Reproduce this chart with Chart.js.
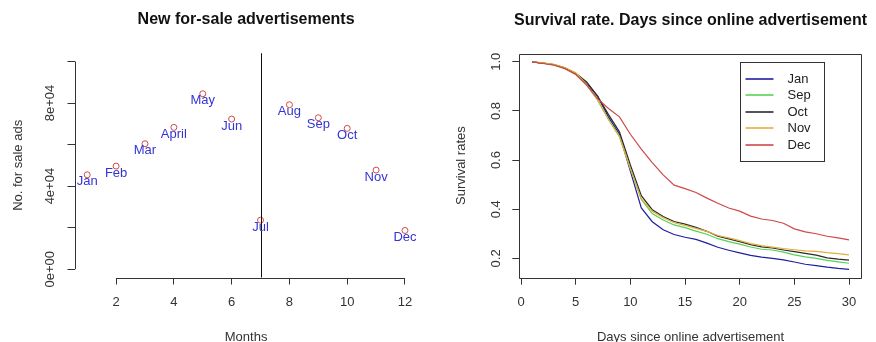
<!DOCTYPE html>
<html>
<head>
<meta charset="utf-8">
<script src="https://cdn.jsdelivr.net/npm/chart.js@4.4.0/dist/chart.umd.min.js"></script>
<style>
  html, body { margin: 0; padding: 0; background: #fff; overflow: hidden; }
  canvas { position: absolute; top: 0; }
  #adsChart { left: 0; }
  #survChart { left: 438px; }
</style>
</head>
<body>
<canvas id="adsChart" width="438" height="342"></canvas>
<canvas id="survChart" width="438" height="342"></canvas>
<script>
// left panel: new for-sale ads per month
const months = [1, 2, 3, 4, 5, 6, 7, 8, 9, 10, 11, 12];
const monthNames = ['Jan', 'Feb', 'Mar', 'April', 'May', 'Jun', 'Jul', 'Aug', 'Sep', 'Oct', 'Nov', 'Dec'];
const newAds = [45450, 49640, 60390, 68290, 84480, 72290, 23610, 79190, 72920, 67800, 47710, 18650];
const splitMonth = 7;
const adsXTicks = [2, 4, 6, 8, 10, 12];
const adsYTicks = [0, 20000, 40000, 60000, 80000, 100000];
const adsYLabels = ['0e+00', '', '4e+04', '', '8e+04', ''];

// right panel: survival rate by days online
const days = [1, 2, 3, 4, 5, 6, 7, 8, 9, 10, 11, 12, 13, 14, 15, 16, 17, 18, 19, 20, 21, 22, 23, 24, 25, 26, 27, 28, 29, 30];
const survJan = [1.000, 0.995, 0.988, 0.975, 0.952, 0.912, 0.860, 0.775, 0.705, 0.555, 0.405, 0.349, 0.316, 0.297, 0.286,
                 0.277, 0.262, 0.245, 0.233, 0.222, 0.212, 0.205, 0.200, 0.194, 0.185, 0.176, 0.170, 0.164, 0.159, 0.155];
const survSep = [1.000, 0.994, 0.988, 0.974, 0.950, 0.905, 0.845, 0.765, 0.695, 0.565, 0.440, 0.382, 0.356, 0.336, 0.325,
                 0.311, 0.298, 0.280, 0.268, 0.258, 0.246, 0.237, 0.234, 0.225, 0.214, 0.206, 0.200, 0.192, 0.186, 0.180];
const survOct = [1.000, 0.995, 0.989, 0.976, 0.953, 0.918, 0.860, 0.785, 0.715, 0.580, 0.455, 0.398, 0.370, 0.350, 0.339,
                 0.326, 0.310, 0.290, 0.279, 0.268, 0.256, 0.247, 0.242, 0.234, 0.227, 0.220, 0.213, 0.202, 0.197, 0.193];
const survNov = [1.000, 0.996, 0.990, 0.977, 0.955, 0.908, 0.845, 0.765, 0.697, 0.565, 0.442, 0.392, 0.365, 0.345, 0.334,
                 0.322, 0.310, 0.293, 0.283, 0.272, 0.260, 0.252, 0.246, 0.240, 0.235, 0.230, 0.228, 0.223, 0.219, 0.214];
const survDec = [1.000, 0.993, 0.986, 0.972, 0.948, 0.905, 0.850, 0.810, 0.776, 0.705, 0.645, 0.590, 0.540, 0.498, 0.484,
                 0.468, 0.445, 0.424, 0.405, 0.392, 0.372, 0.360, 0.354, 0.343, 0.320, 0.308, 0.300, 0.290, 0.283, 0.275];
const survLabels = ['Jan', 'Sep', 'Oct', 'Nov', 'Dec'];
const survXTicks = [0, 5, 10, 15, 20, 25, 30];
const survYTicks = [0.2, 0.4, 0.6, 0.8, 1.0];
const survYLabels = ['0.2', '0.4', '0.6', '0.8', '1.0'];

const survColors = ['#1f1fa0', '#55d255', '#2a2a2a', '#e2ae3c', '#d04848'];

Chart.defaults.font.family = '"Liberation Sans", Arial, sans-serif';
Chart.defaults.font.size = 13;
Chart.defaults.color = '#333';

// R-ish axis: ticks outside, fixed box size so the plot region lands where it should
function rAxis(pos, min, max, ticks, labels, size, tickPad, title, titlePad) {
    const horizontal = pos === 'bottom';
    return {
        type: 'linear',
        position: pos,
        min: min,
        max: max,
        afterBuildTicks: function (s) {
            s.ticks = ticks.map(v => ({value: v}));
        },
        afterFit: function (s) {
            if (horizontal) s.height = size; else s.width = size;
        },
        border: {display: false},
        grid: {drawOnChartArea: false, drawTicks: true, tickLength: 7, color: '#333', lineWidth: 1},
        ticks: horizontal ? {
            autoSkip: false, maxRotation: 0, padding: tickPad,
            callback: (v, i) => labels[i]
        } : {
            autoSkip: false, minRotation: 90, maxRotation: 90, crossAlign: 'center', padding: tickPad,
            callback: (v, i) => labels[i]
        },
        title: {
            display: true, text: title, color: '#333',
            font: {size: 13, lineHeight: 1},
            padding: titlePad
        }
    };
}

const rFrame = {
    id: 'rFrame',
    afterDraw(chart, args, opts) {
        const ctx = chart.ctx, a = chart.chartArea;
        const xs = chart.scales.x, ys = chart.scales.y;
        ctx.save();
        ctx.strokeStyle = '#333';
        ctx.lineWidth = 1;
        ctx.beginPath();
        if (opts.box) {
            ctx.rect(Math.round(a.left) + 0.5, Math.round(a.top) + 0.5,
                Math.round(a.right - a.left), Math.round(a.bottom - a.top));
        } else {
            const by = Math.round(a.bottom) + 0.5, lx = Math.round(a.left) + 0.5;
            ctx.moveTo(xs.getPixelForValue(opts.xTicks[0]), by);
            ctx.lineTo(xs.getPixelForValue(opts.xTicks[opts.xTicks.length - 1]), by);
            ctx.moveTo(lx, ys.getPixelForValue(opts.yTicks[0]));
            ctx.lineTo(lx, ys.getPixelForValue(opts.yTicks[opts.yTicks.length - 1]));
        }
        ctx.stroke();
        ctx.fillStyle = '#111';
        ctx.font = 'bold 16px "Liberation Sans", Arial, sans-serif';
        ctx.textAlign = 'center';
        ctx.textBaseline = 'middle';
        ctx.fillText(opts.title, (a.left + a.right) / 2, opts.titleY);
        ctx.restore();
    }
};

// month names under the points + the vertical line at July
const monthTags = {
    id: 'monthTags',
    afterDatasetsDraw(chart) {
        const ctx = chart.ctx, a = chart.chartArea;
        const vx = Math.round(chart.scales.x.getPixelForValue(splitMonth)) + 0.5;
        ctx.save();
        ctx.strokeStyle = '#111';
        ctx.lineWidth = 1;
        ctx.beginPath();
        ctx.moveTo(vx, a.top);
        ctx.lineTo(vx, a.bottom);
        ctx.stroke();
        ctx.fillStyle = '#3434d2';
        ctx.font = '13px "Liberation Sans", Arial, sans-serif';
        ctx.textAlign = 'center';
        ctx.textBaseline = 'middle';
        chart.getDatasetMeta(0).data.forEach((pt, i) => {
            ctx.fillText(monthNames[i], pt.x, pt.y + 7);
        });
        ctx.restore();
    }
};

const rLegend = {
    id: 'rLegend',
    afterDraw(chart) {
        const ctx = chart.ctx, a = chart.chartArea;
        const left = Math.round(a.right - 122) + 0.5, top = Math.round(a.top + 8) + 0.5;
        ctx.save();
        ctx.lineWidth = 1;
        ctx.strokeStyle = '#333';
        ctx.strokeRect(left, top, 84, 99);
        ctx.font = '13px "Liberation Sans", Arial, sans-serif';
        ctx.textBaseline = 'middle';
        ctx.textAlign = 'left';
        ctx.lineWidth = 1.6;
        for (let i = 0; i < survLabels.length; i++) {
            const y = Math.round(top + 16 + i * 16.5);
            ctx.beginPath();
            ctx.strokeStyle = survColors[i];
            ctx.moveTo(left + 5, y);
            ctx.lineTo(left + 33, y);
            ctx.stroke();
            ctx.fillStyle = '#222';
            ctx.fillText(survLabels[i], left + 47, y);
        }
        ctx.restore();
    }
};

new Chart(document.getElementById('adsChart'), {
    type: 'scatter',
    data: {
        datasets: [{
            data: months.map((m, i) => ({x: m, y: newAds[i]})),
            pointRadius: 3,
            pointBorderWidth: 1,
            pointBorderColor: '#d04a4a',
            pointBackgroundColor: 'rgba(0,0,0,0)'
        }]
    },
    options: {
        responsive: false,
        animation: false,
        layout: {padding: {top: 53.2, right: 20.3, left: 0, bottom: 0}},
        scales: {
            x: rAxis('bottom', 0.56, 12.44, adsXTicks, adsXTicks.map(String), 64.5, 10.4, 'Months', {top: 0, bottom: -1.5}),
            y: rAxis('left', -4000, 104000, adsYTicks, adsYLabels, 74.5, -1.5, 'No. for sale ads', {top: 12, bottom: 0})
        },
        plugins: {
            legend: {display: false},
            tooltip: {enabled: false},
            rFrame: {box: false, xTicks: adsXTicks, yTicks: adsYTicks, title: 'New for-sale advertisements', titleY: 20}
        }
    },
    plugins: [rFrame, monthTags]
});

const survValues = [survJan, survSep, survOct, survNov, survDec];

new Chart(document.getElementById('survChart'), {
    type: 'line',
    data: {
        datasets: survValues.map((vals, k) => ({
            label: survLabels[k],
            data: days.map((d, i) => ({x: d, y: vals[i]})),
            borderColor: survColors[k],
            borderWidth: 1.2,
            pointRadius: 0,
            tension: 0,
            order: survValues.length - k
        }))
    },
    options: {
        responsive: false,
        animation: false,
        layout: {padding: {top: 53.5, right: 14.3, left: 0, bottom: 0}},
        scales: {
            x: rAxis('bottom', -0.16, 31.16, survXTicks, survXTicks.map(String), 64.3, 10, 'Days since online advertisement', {top: 0, bottom: -1.5}),
            y: rAxis('left', 0.1212, 1.0338, survYTicks, survYLabels, 81.3, 7.3, 'Survival rates', {top: 17, bottom: 0})
        },
        plugins: {
            legend: {display: false},
            tooltip: {enabled: false},
            rFrame: {box: true, title: 'Survival rate. Days since online advertisement', titleY: 21}
        }
    },
    plugins: [rFrame, rLegend]
});
</script>
</body>
</html>
